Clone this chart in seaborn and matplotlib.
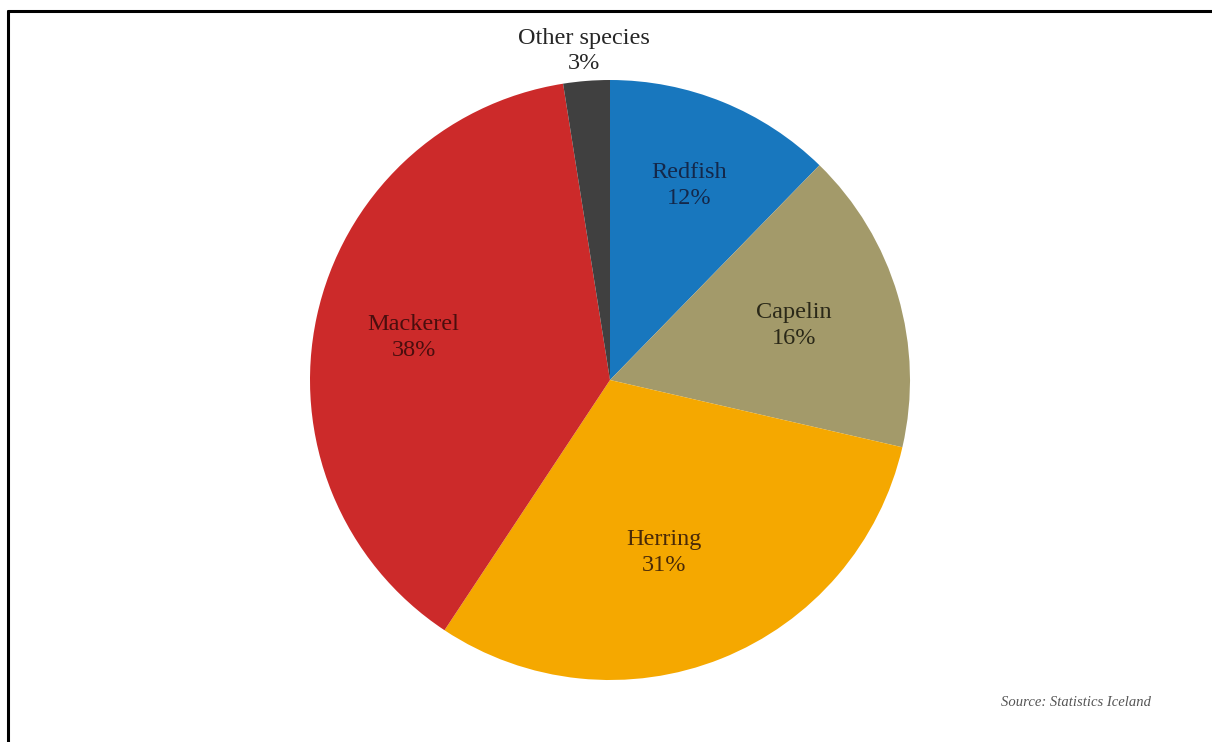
import numpy as np
import matplotlib
matplotlib.use("Agg")
import matplotlib.pyplot as plt
import seaborn as sns
from matplotlib.lines import Line2D

categories = ["Redfish", "Capelin", "Herring", "Mackerel", "Other species"]
shares = [12.3, 16.3, 30.7, 38.2, 2.5]
pct_labels = ["12%", "16%", "31%", "38%", "3%"]
colors = ["#1877BE", "#A39A6A", "#F5A800", "#CC2A2A", "#404040"]
text_colors = ["#14284a", "#2a2818", "#4a2a08", "#4a0e0e", "#262626"]
label_dist = [0.70, 0.64, 0.62, 0.67, 1.10]

sns.set_theme(style="white")
plt.rcParams["font.family"] = ["Liberation Serif", "DejaVu Serif"]

W, H = 1212, 742
fig = plt.figure(figsize=(W / 100, H / 100), dpi=100)
fig.patch.set_facecolor("white")

cx, cy, r = 610, 380, 300
ax = fig.add_axes([(cx - r) / W, (H - cy - r) / H, 2 * r / W, 2 * r / H])
wedges, _ = ax.pie(shares, colors=colors, startangle=90, counterclock=False,
                   radius=1.0, wedgeprops=dict(linewidth=0))
ax.set_xlim(-1, 1)
ax.set_ylim(-1, 1)
ax.set_aspect("equal")
ax.axis("off")

for w, name, pct, tc, d in zip(wedges, categories, pct_labels, text_colors, label_dist):
    ang = np.deg2rad((w.theta1 + w.theta2) / 2)
    x, y = d * np.cos(ang), d * np.sin(ang)
    if name == "Herring":
        x -= 0.05
    ax.text(x, y, f"{name}\n{pct}", ha="center", va="center", fontsize=17.5,
            color=tc, linespacing=1.3, clip_on=False)

fig.text(1076 / W, 1 - 702 / H, "Source: Statistics Iceland", ha="center", va="center",
         fontsize=10.5, style="italic", color="#555555")

fig.add_artist(Line2D([8 / W, 1], [1 - 11 / H, 1 - 11 / H], color="black", lw=2.2,
                      transform=fig.transFigure))
fig.add_artist(Line2D([8 / W, 8 / W], [0, 1 - 11 / H], color="black", lw=2.2,
                      transform=fig.transFigure))

fig.savefig("out.png", dpi=100, facecolor="white")
